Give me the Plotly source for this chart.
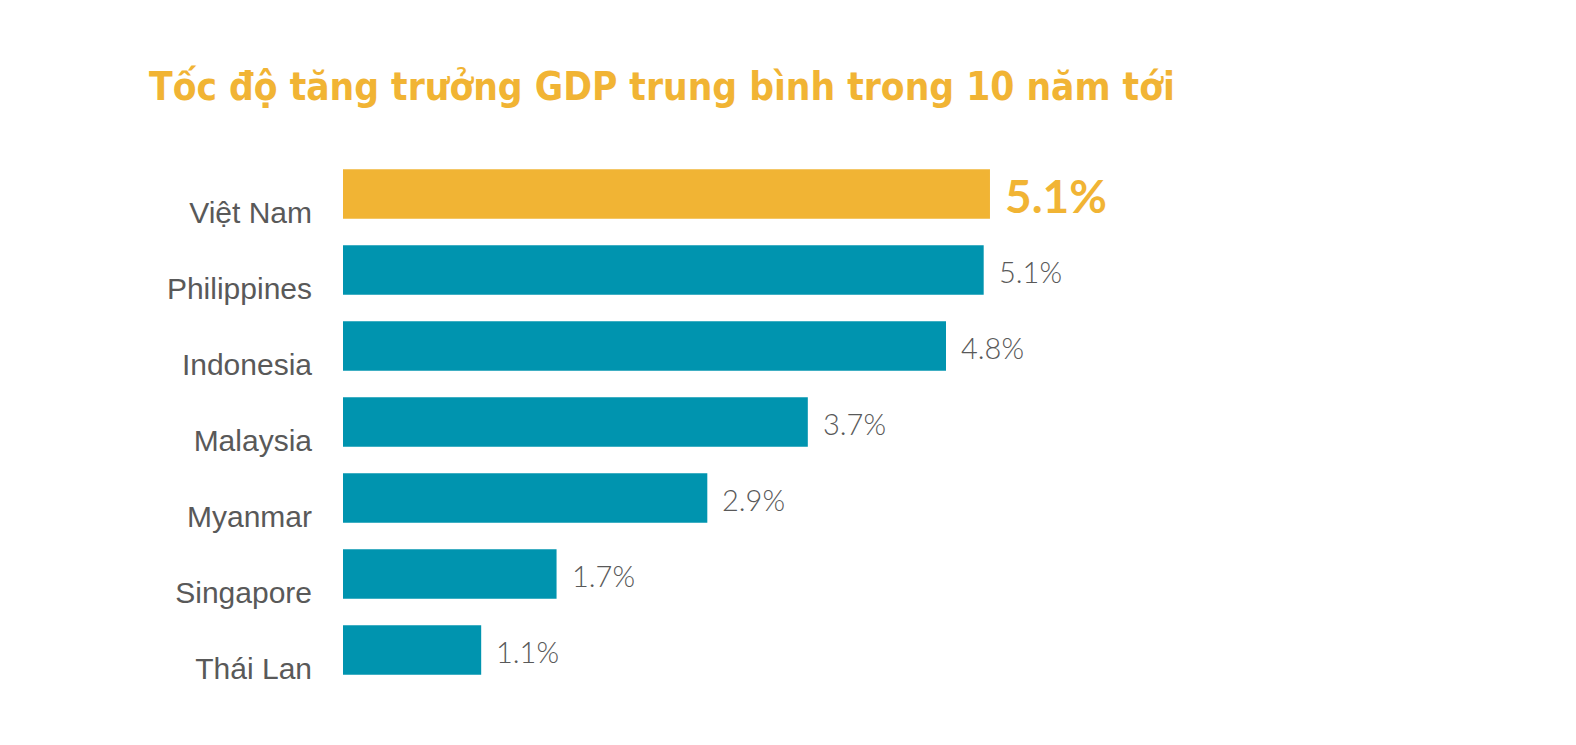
import plotly.graph_objects as go

countries = ["Việt Nam", "Philippines", "Indonesia", "Malaysia", "Myanmar", "Singapore", "Thái Lan"]
growth = [5.15, 5.1, 4.8, 3.7, 2.9, 1.7, 1.1]
value_labels = ["5.1%", "5.1%", "4.8%", "3.7%", "2.9%", "1.7%", "1.1%"]
title_text = "Tốc độ tăng trưởng GDP trung bình trong 10 năm tới"

ORANGE = "#F1B434"
TEAL = "#0094AF"
GREY = "#595959"

colors = [ORANGE] + [TEAL] * (len(countries) - 1)

fig = go.Figure()
fig.add_trace(go.Bar(
    x=growth, y=countries, orientation="h",
    marker=dict(color=colors, line=dict(width=0)),
    hoverinfo="skip",
))

for i, (c, v, t) in enumerate(zip(countries, growth, value_labels)):
    hi = i == 0
    fig.add_annotation(
        x=v, y=c, xref="x", yref="y", text=t, showarrow=False,
        xanchor="left", yanchor="middle", xshift=13, yshift=-1,
        font=dict(family="Lato", size=46 if hi else 29,
                  color=ORANGE if hi else GREY, weight=700 if hi else 300),
    )

fig.update_layout(
    width=1576, height=745,
    margin=dict(l=335, r=236, t=148, b=65, autoexpand=False),
    paper_bgcolor="white", plot_bgcolor="white",
    bargap=0.35, showlegend=False,
    title=dict(text=title_text, x=141/1576, xanchor="left", xref="container",
               y=1 - 79/745, yanchor="middle", yref="container",
               font=dict(family="DejaVu Sans Condensed, Liberation Sans", size=38.5,
                         color=ORANGE, weight=700)),
    xaxis=dict(range=[0, 8], visible=False, fixedrange=True, automargin=False),
    yaxis=dict(categoryorder="array", categoryarray=countries, autorange="reversed",
               showgrid=False, zeroline=False, showline=False, ticks="",
               automargin=False,
               ticklabelstandoff=30, ticklabelshift=-18,
               tickfont=dict(family="Liberation Sans", size=30, color=GREY)),
)

fig.write_html("out.html")
